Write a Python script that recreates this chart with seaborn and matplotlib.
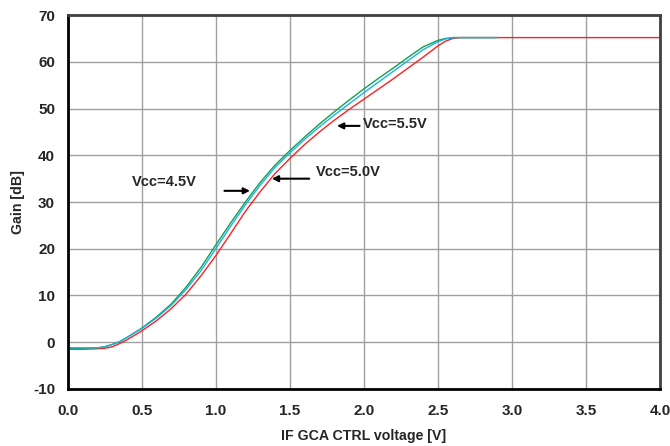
import numpy as np
import pandas as pd
import matplotlib
matplotlib.use("Agg")
import matplotlib.pyplot as plt
import seaborn as sns

# ---- data ----
x_45 = [0.0, 0.1, 0.2, 0.25, 0.3, 0.35, 0.4, 0.5, 0.6, 0.7, 0.8, 0.9, 1.0, 1.1, 1.2, 1.3,
        1.4, 1.5, 1.6, 1.7, 1.8, 1.9, 2.0, 2.1, 2.2, 2.3, 2.4, 2.5, 2.55, 2.6, 2.9]
gain_45 = [-1.3, -1.3, -1.2, -1.0, -0.5, 0.1, 1.0, 3.0, 5.4, 8.2, 11.8, 16.0, 20.8, 25.5, 30.0, 34.2,
           37.9, 41.0, 43.9, 46.7, 49.3, 51.8, 54.2, 56.5, 58.7, 61.0, 63.2, 64.6, 65.0, 65.2, 65.2]

x_50 = [0.0, 0.1, 0.2, 0.25, 0.3, 0.35, 0.4, 0.5, 0.6, 0.7, 0.8, 0.9, 1.0, 1.1, 1.2, 1.3,
        1.4, 1.5, 1.6, 1.7, 1.8, 1.9, 2.0, 2.1, 2.2, 2.3, 2.4, 2.5, 2.55, 2.6, 2.9]
gain_50 = [-1.2, -1.2, -1.2, -1.0, -0.5, 0.1, 1.0, 2.9, 5.2, 7.9, 11.3, 15.3, 20.0, 24.8, 29.4, 33.6,
           37.4, 40.5, 43.4, 46.1, 48.6, 51.0, 53.4, 55.7, 58.0, 60.3, 62.6, 64.3, 64.9, 65.2, 65.2]

x_55 = [0.0, 0.1, 0.2, 0.25, 0.3, 0.35, 0.4, 0.5, 0.6, 0.7, 0.8, 0.9, 1.0, 1.1, 1.2, 1.3,
        1.4, 1.5, 1.6, 1.7, 1.8, 1.9, 2.0, 2.1, 2.2, 2.3, 2.4, 2.5, 2.55, 2.6, 2.65, 4.0]
gain_55 = [-1.5, -1.5, -1.4, -1.3, -1.0, -0.3, 0.5, 2.4, 4.6, 7.2, 10.3, 14.2, 18.5, 23.2, 28.0, 32.2,
           36.1, 39.3, 42.3, 45.0, 47.5, 49.8, 52.0, 54.2, 56.4, 58.7, 61.0, 63.4, 64.4, 65.0, 65.2, 65.2]

series = ["Vcc=5.5V", "Vcc=4.5V", "Vcc=5.0V"]
colors = ["#ff2020", "#10a050", "#20b0e8"]

df = pd.concat([
    pd.DataFrame({"x": x_55, "gain": gain_55, "vcc": series[0]}),
    pd.DataFrame({"x": x_45, "gain": gain_45, "vcc": series[1]}),
    pd.DataFrame({"x": x_50, "gain": gain_50, "vcc": series[2]}),
])

# ---- plot ----
sns.set_style("white")
plt.rcParams["font.family"] = ["Liberation Sans", "DejaVu Sans"]
plt.rcParams["axes.unicode_minus"] = False

fig, ax = plt.subplots(figsize=(6.7, 4.46), dpi=100)
fig.subplots_adjust(left=0.101, right=0.985, top=0.966, bottom=0.128)

sns.lineplot(data=df, x="x", y="gain", hue="vcc", palette=dict(zip(series, colors)),
             linewidth=1.0, legend=False, ax=ax, sort=False, estimator=None)

ax.set_xlim(0, 4)
ax.set_ylim(-10, 70)
ax.set_xticks(np.arange(0, 4.01, 0.5))
ax.set_yticks(np.arange(-10, 71, 10))
ax.set_xticklabels([f"{v:.1f}" for v in np.arange(0, 4.01, 0.5)])
ax.grid(True, color="#a0a0a0", linewidth=1.0)
ax.set_axisbelow(True)
for s in ax.spines.values():
    s.set_color("black")
    s.set_linewidth(2.0)
ax.spines["right"].set_color("#404040")
ax.spines["top"].set_color("#404040")
ax.tick_params(axis="x", length=0, pad=11, labelsize=11)
ax.tick_params(axis="y", length=0, pad=9, labelsize=11)
for lbl in ax.get_xticklabels() + ax.get_yticklabels():
    lbl.set_fontweight("bold")

ax.set_xlabel("IF GCA CTRL voltage [V]", fontsize=10.2, fontweight="bold", labelpad=8)
ax.set_ylabel("Gain [dB]", fontsize=10.2, fontweight="bold", labelpad=6)

# annotations with arrows
arr = dict(arrowstyle="-|>", color="black", lw=1.5, mutation_scale=9)
ax.annotate("", xy=(1.25, 32.4), xytext=(1.04, 32.4), arrowprops=arr)
ax.text(0.655, 34.2, "Vcc=4.5V", fontsize=10.5, fontweight="bold", ha="center", va="center")
ax.annotate("", xy=(1.36, 35.0), xytext=(1.65, 35.0), arrowprops=arr)
ax.text(1.675, 36.4, "Vcc=5.0V", fontsize=10.5, fontweight="bold", ha="left", va="center")
ax.annotate("", xy=(1.80, 46.3), xytext=(1.99, 46.3), arrowprops=arr)
ax.text(1.995, 46.6, "Vcc=5.5V", fontsize=10.5, fontweight="bold", ha="left", va="center")

fig.savefig("out.png", dpi=100)
